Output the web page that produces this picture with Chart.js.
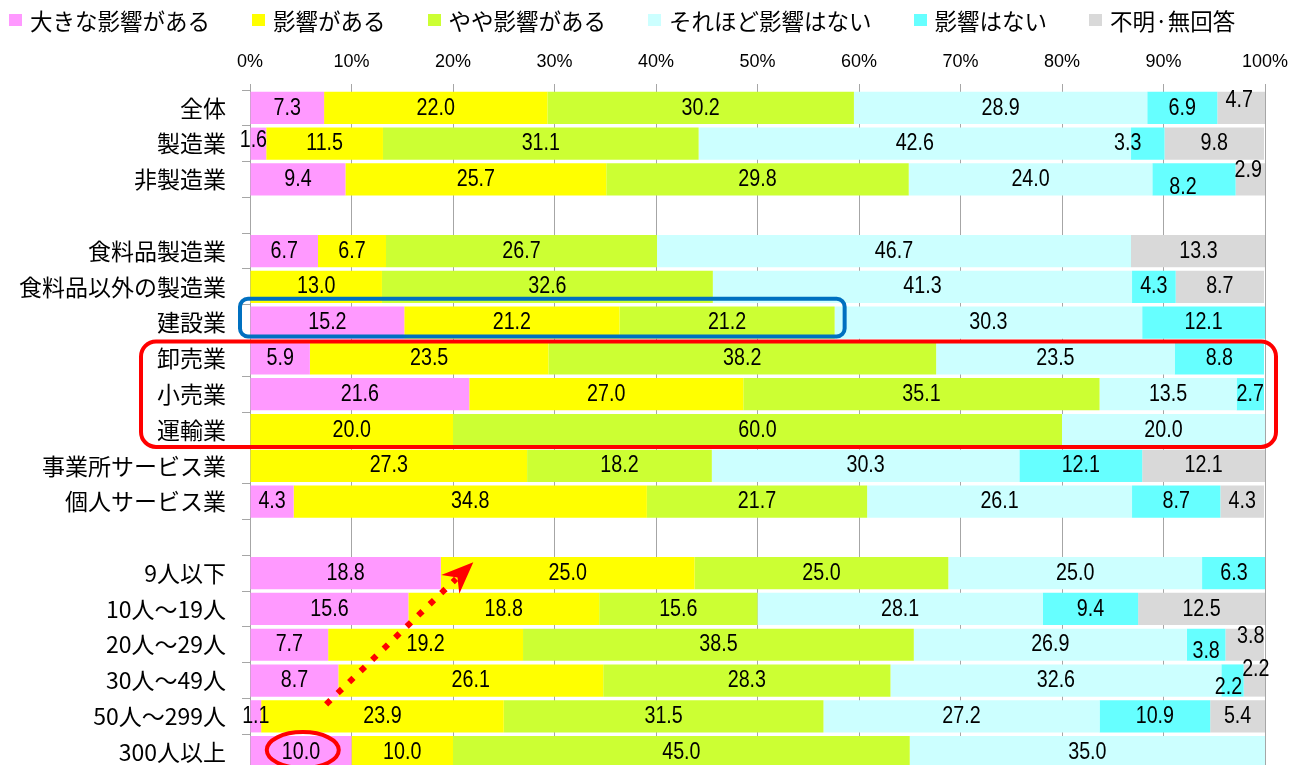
<!DOCTYPE html>
<html lang="ja">
<head>
<meta charset="utf-8">
<title>影響の有無</title>
<script src="https://cdn.jsdelivr.net/npm/chart.js@4.4.1/dist/chart.umd.min.js"></script>
<style>
  html, body { margin: 0; padding: 0; background: #fff; overflow: hidden; }
  #wrap { position: relative; width: 1304px; height: 770px; }
  #legend {
    position: absolute; left: 9px; top: 8px; margin: 0; padding: 0;
    display: flex; gap: 42px; list-style: none;
    font: 22.5px "Noto Sans CJK JP", sans-serif; line-height: 24px; color: #000;
  }
  #legend li { display: flex; align-items: center; white-space: nowrap; }
  #legend .box { width: 13px; height: 12px; margin-right: 8px; }
</style>
</head>
<body>
<div id="wrap">
  <ul id="legend"></ul>
  <canvas id="chart"></canvas>
</div>
<script>
/* global Chart */
(function () {
  "use strict";

  const categories = [
    "全体", "製造業", "非製造業", "",
    "食料品製造業", "食料品以外の製造業", "建設業", "卸売業", "小売業", "運輸業",
    "事業所サービス業", "個人サービス業", "",
    "9人以下", "10人～19人", "20人～29人", "30人～49人", "50人～299人", "300人以上"
  ];

  const seriesNames = [
    "大きな影響がある", "影響がある", "やや影響がある",
    "それほど影響はない", "影響はない", "不明·無回答"
  ];

  const bigImpact    = [7.3, 1.6, 9.4, null, 6.7, 0, 15.2, 5.9, 21.6, 0, 0, 4.3, null, 18.8, 15.6, 7.7, 8.7, 1.1, 10.0];
  const impact       = [22.0, 11.5, 25.7, null, 6.7, 13.0, 21.2, 23.5, 27.0, 20.0, 27.3, 34.8, null, 25.0, 18.8, 19.2, 26.1, 23.9, 10.0];
  const someImpact   = [30.2, 31.1, 29.8, null, 26.7, 32.6, 21.2, 38.2, 35.1, 60.0, 18.2, 21.7, null, 25.0, 15.6, 38.5, 28.3, 31.5, 45.0];
  const littleImpact = [28.9, 42.6, 24.0, null, 46.7, 41.3, 30.3, 23.5, 13.5, 20.0, 30.3, 26.1, null, 25.0, 28.1, 26.9, 32.6, 27.2, 35.0];
  const noImpact     = [6.9, 3.3, 8.2, null, 0, 4.3, 12.1, 8.8, 2.7, 0, 12.1, 8.7, null, 6.3, 9.4, 3.8, 2.2, 10.9, 0];
  const unknown      = [4.7, 9.8, 2.9, null, 13.3, 8.7, 0, 0, 0, 0, 12.1, 4.3, null, 0, 12.5, 3.8, 2.2, 5.4, 0];

  const xTicks = [0, 10, 20, 30, 40, 50, 60, 70, 80, 90, 100];

  const colors = ["#FF99FF", "#FFFF00", "#CCFF33", "#CCFFFF", "#66FFFF", "#D9D9D9"];
  const GRID = "#A6A6A6";

  // hand-placed labels on the thin segments ("dataset,row": [dx, dy])
  const labelNudges = {
    "5,0": [-2, -8],
    "0,1": [-5, -3],
    "4,1": [-20, 0],
    "4,2": [-11, 8],
    "5,2": [-2, -9],
    "4,15": [0, 7],
    "5,15": [6, -8],
    "4,16": [-4, 7],
    "5,16": [1, -11]
  };

  const allSeries = [bigImpact, impact, someImpact, littleImpact, noImpact, unknown];

  // narrow face for the numbers, squeezed Liberation Sans if it is missing
  const probe = document.createElement("canvas").getContext("2d");
  probe.font = "24px 'Liberation Sans Narrow', monospace";
  const wNarrow = probe.measureText("0123456789").width;
  probe.font = "24px monospace";
  const hasNarrow = wNarrow !== probe.measureText("0123456789").width;

  const valueLabels = {
    id: "valueLabels",
    afterDatasetsDraw(chart) {
      const ctx = chart.ctx;
      ctx.save();
      ctx.fillStyle = "#000";
      ctx.textAlign = "center";
      ctx.textBaseline = "middle";
      ctx.font = hasNarrow ? "24px 'Liberation Sans Narrow'" : "24px 'Liberation Sans'";
      chart.data.datasets.forEach(function (ds, di) {
        chart.getDatasetMeta(di).data.forEach(function (bar, i) {
          const v = ds.data[i];
          if (v == null || v === 0) return;
          const p = bar.getProps(["x", "y", "base"], true);
          const nudge = labelNudges[di + "," + i] || [0, 0];
          const cx = (p.x + p.base) / 2 + nudge[0];
          const cy = p.y + nudge[1];
          if (hasNarrow) {
            ctx.fillText(v.toFixed(1), cx, cy);
          } else {
            ctx.save();
            ctx.translate(cx, cy);
            ctx.scale(0.82, 1);
            ctx.fillText(v.toFixed(1), 0, 0);
            ctx.restore();
          }
        });
      });
      ctx.restore();
    }
  };

  function roundRectPath(ctx, x, y, w, h, r) {
    ctx.beginPath();
    ctx.moveTo(x + r, y);
    ctx.lineTo(x + w - r, y);
    ctx.arcTo(x + w, y, x + w, y + r, r);
    ctx.lineTo(x + w, y + h - r);
    ctx.arcTo(x + w, y + h, x + w - r, y + h, r);
    ctx.lineTo(x + r, y + h);
    ctx.arcTo(x, y + h, x, y + h - r, r);
    ctx.lineTo(x, y + r);
    ctx.arcTo(x, y, x + r, y, r);
    ctx.closePath();
  }

  const annotate = {
    id: "annotate",
    afterDraw(chart) {
      const ctx = chart.ctx;
      const area = chart.chartArea;
      const xs = chart.scales.x;
      const ys = chart.scales.y;
      const pitch = ys.getPixelForValue(1) - ys.getPixelForValue(0);
      ctx.save();

      // blue frame: 建設業, first three answers
      const row = 6;
      const reach = bigImpact[row] + impact[row] + someImpact[row];
      const bTop = ys.getPixelForValue(row) - pitch / 2 - 6;
      const bBot = ys.getPixelForValue(row) + pitch / 2 - 4;
      const bLeft = area.left - 10;
      const bRight = xs.getPixelForValue(reach) + 10;
      ctx.strokeStyle = "#0070C0";
      ctx.lineWidth = 4;
      roundRectPath(ctx, bLeft, bTop, bRight - bLeft, bBot - bTop, 8);
      ctx.stroke();

      // red frame: 卸売業 .. 運輸業
      const rTop = ys.getPixelForValue(7) - pitch / 2 + 1;
      const rBot = ys.getPixelForValue(9) + pitch / 2 - 1;
      const rLeft = area.left - 109;
      const rRight = area.right + 11;
      ctx.strokeStyle = "#FF0000";
      roundRectPath(ctx, rLeft, rTop, rRight - rLeft, rBot - rTop, 15);
      ctx.stroke();

      // red ring around 300人以上
      ctx.beginPath();
      ctx.ellipse(xs.getPixelForValue(5.2), ys.getPixelForValue(18) - 2, 36, 18, 0, 0, Math.PI * 2);
      ctx.stroke();

      // dotted arrow 50人～299人 -> 9人以下
      const x0 = xs.getPixelForValue(7.5), y0 = ys.getPixelForValue(17) - 12;
      const x1 = xs.getPixelForValue(22), y1 = ys.getPixelForValue(13) - 11;
      const ang = Math.atan2(y1 - y0, x1 - x0);
      const headLen = 32;
      const bx = x1 - Math.cos(ang) * (headLen - 8);
      const by = y1 - Math.sin(ang) * (headLen - 8);
      ctx.setLineDash([6, 10]);
      ctx.lineWidth = 6;
      ctx.lineCap = "butt";
      ctx.beginPath();
      ctx.moveTo(x0, y0);
      ctx.lineTo(bx, by);
      ctx.stroke();
      ctx.setLineDash([]);
      ctx.fillStyle = "#FF0000";
      const wing = 13;
      const backX = x1 - Math.cos(ang) * headLen;
      const backY = y1 - Math.sin(ang) * headLen;
      ctx.beginPath();
      ctx.moveTo(x1, y1);
      ctx.lineTo(backX + Math.cos(ang + Math.PI / 2) * wing, backY + Math.sin(ang + Math.PI / 2) * wing);
      ctx.lineTo(x1 - Math.cos(ang) * (headLen - 10), y1 - Math.sin(ang) * (headLen - 10));
      ctx.lineTo(backX - Math.cos(ang + Math.PI / 2) * wing, backY - Math.sin(ang + Math.PI / 2) * wing);
      ctx.closePath();
      ctx.fill();

      ctx.restore();
    }
  };

  const htmlLegend = {
    id: "htmlLegend",
    afterUpdate(chart) {
      const ul = document.getElementById("legend");
      ul.innerHTML = "";
      chart.options.plugins.legend.labels.generateLabels(chart).forEach(function (item) {
        const li = document.createElement("li");
        const box = document.createElement("span");
        box.className = "box";
        box.style.background = item.fillStyle;
        li.appendChild(box);
        li.appendChild(document.createTextNode(item.text));
        ul.appendChild(li);
      });
    }
  };

  new Chart(document.getElementById("chart"), {
    type: "bar",
    data: {
      labels: categories,
      datasets: allSeries.map(function (vals, i) {
        return {
          label: seriesNames[i],
          data: vals,
          backgroundColor: colors[i],
          borderWidth: 0,
          categoryPercentage: 1,
          barPercentage: 0.9
        };
      })
    },
    options: {
      indexAxis: "y",
      responsive: true,
      maintainAspectRatio: false,
      animation: false,
      // x axis height = tick 6 + 2 * padding 11 + label 21.6 -> plot top at 90
      layout: { padding: { top: 40.4, right: 39, bottom: 0, left: 0 } },
      plugins: {
        legend: { display: false },
        tooltip: { enabled: false }
      },
      scales: {
        x: {
          position: "top",
          stacked: true,
          min: 0,
          max: 100,
          afterBuildTicks: function (scale) {
            scale.ticks = xTicks.map(function (v) { return { value: v }; });
          },
          ticks: {
            callback: function (v) { return v + "%"; },
            color: "#000",
            font: { family: "'Liberation Sans', Arial, sans-serif", size: 18 },
            padding: 11,
            maxRotation: 0
          },
          grid: { color: GRID, lineWidth: 1, tickLength: 6 },
          border: { display: false }
        },
        y: {
          stacked: true,
          afterFit: function (scale) {
            scale.width = 250;
            scale.paddingTop = 0;
            scale.paddingBottom = 0;
          },
          ticks: {
            autoSkip: false,
            color: "#000",
            font: { family: "'Noto Sans CJK JP', sans-serif", size: 23 },
            padding: 16
          },
          grid: { drawOnChartArea: false, tickLength: 8, color: GRID },
          border: { display: true, color: GRID }
        }
      }
    },
    plugins: [valueLabels, annotate, htmlLegend]
  });
})();
</script>
</body>
</html>
